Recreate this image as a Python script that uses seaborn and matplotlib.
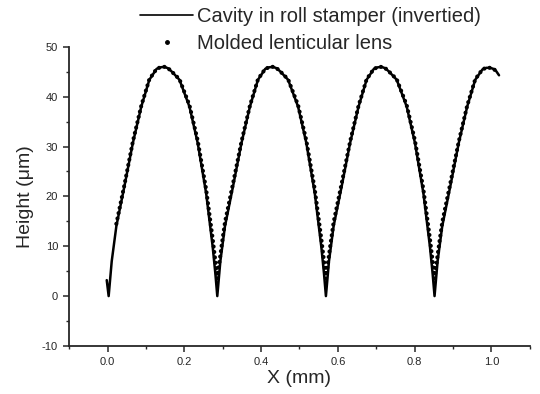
import matplotlib
matplotlib.use('Agg')
import matplotlib.pyplot as plt
from matplotlib.lines import Line2D
from matplotlib.ticker import MultipleLocator, FormatStrFormatter
import pandas as pd
import seaborn as sns

sns.set_style('ticks')
plt.rcParams['font.family'] = ['Liberation Sans', 'DejaVu Sans']
plt.rcParams['axes.unicode_minus'] = False

# Cavity in roll stamper (inverted) - solid line
stamper_x = [-0.002, 0.003,
             0.011, 0.023, 0.044, 0.066, 0.088, 0.109, 0.128, 0.138, 0.148, 0.158, 0.168, 0.1875, 0.2135, 0.235, 0.257, 0.274, 0.281, 0.286,
             0.294, 0.306, 0.327, 0.349, 0.371, 0.392, 0.411, 0.421, 0.431, 0.441, 0.451, 0.4705, 0.4965, 0.518, 0.540, 0.557, 0.564, 0.569,
             0.577, 0.589, 0.610, 0.632, 0.654, 0.675, 0.694, 0.704, 0.714, 0.724, 0.734, 0.7535, 0.7795, 0.801, 0.823, 0.840, 0.847, 0.852,
             0.860, 0.872, 0.893, 0.915, 0.937, 0.958, 0.977, 0.987, 0.997, 1.005, 1.012, 1.020]
stamper_y = [3.2, 0.0,
             7.0, 14.0, 22.0, 30.7, 38.0, 43.4, 45.6, 45.9, 46.0, 45.7, 45.0, 43.4, 38.0, 30.7, 20.6, 9.9, 4.5, 0.0,
             7.0, 14.0, 22.0, 30.7, 38.0, 43.4, 45.6, 45.9, 46.0, 45.7, 45.0, 43.4, 38.0, 30.7, 20.6, 9.9, 4.5, 0.0,
             7.0, 14.0, 22.0, 30.7, 38.0, 43.4, 45.6, 45.9, 46.0, 45.7, 45.0, 43.4, 38.0, 30.7, 20.6, 9.9, 4.5, 0.0,
             7.0, 14.0, 22.0, 30.7, 38.0, 43.4, 45.5, 45.8, 45.8, 45.6, 45.2, 44.3]

# Molded lenticular lens - dots
lens_x = [0.023, 0.044, 0.066, 0.088, 0.109, 0.128, 0.138, 0.148, 0.158, 0.168, 0.1875, 0.2135, 0.235, 0.257, 0.274, 0.281, 0.286,
          0.291, 0.298, 0.306, 0.327, 0.349, 0.371, 0.392, 0.411, 0.421, 0.431, 0.441, 0.451, 0.4705, 0.4965, 0.518, 0.540, 0.557, 0.564, 0.569,
          0.574, 0.581, 0.589, 0.610, 0.632, 0.654, 0.675, 0.694, 0.704, 0.714, 0.724, 0.734, 0.7535, 0.7795, 0.801, 0.823, 0.840, 0.847, 0.852,
          0.857, 0.864, 0.872, 0.893, 0.915, 0.937, 0.958, 0.977, 0.987, 0.997, 1.005, 1.012]
lens_y = [14.5, 22.3, 31.0, 38.2, 43.5, 45.6, 45.9, 46.0, 45.7, 45.0, 43.5, 38.3, 31.2, 21.4, 11.5, 7.0, 3.5,
          6.5, 10.5, 14.8, 22.6, 31.0, 38.2, 43.5, 45.6, 45.9, 46.0, 45.7, 45.0, 43.5, 38.3, 31.2, 21.4, 11.5, 7.0, 3.5,
          6.5, 10.5, 14.8, 22.6, 31.0, 38.2, 43.5, 45.6, 45.9, 46.0, 45.7, 45.0, 43.5, 38.3, 31.2, 21.4, 11.5, 7.0, 3.5,
          6.5, 10.5, 14.8, 22.6, 31.0, 38.2, 43.5, 45.5, 45.8, 45.8, 45.6, 45.2]

df_stamper = pd.DataFrame({'X': stamper_x, 'Height': stamper_y})
df_lens = pd.DataFrame({'X': lens_x, 'Height': lens_y})

fig = plt.figure(figsize=(5.4, 3.94), dpi=100)
ax = fig.add_axes([0.128, 0.122, 0.853, 0.759])

sns.lineplot(data=df_lens, x='X', y='Height', sort=False, estimator=None,
             color='black', linewidth=3.0, ax=ax)
lens_line = ax.lines[-1]
lens_line.set_dashes((0.01, 1.3))
lens_line.set_dash_capstyle('round')

sns.lineplot(data=df_stamper, x='X', y='Height', sort=False, estimator=None,
             color='black', linewidth=1.8, ax=ax)

ax.set_xlim(-0.1, 1.1)
ax.set_ylim(-10, 50)
ax.xaxis.set_major_locator(MultipleLocator(0.2))
ax.xaxis.set_minor_locator(MultipleLocator(0.1))
ax.xaxis.set_major_formatter(FormatStrFormatter('%.1f'))
ax.yaxis.set_major_locator(MultipleLocator(10))
ax.yaxis.set_minor_locator(MultipleLocator(5))
ax.tick_params(which='major', direction='out', length=4, width=1.1, labelsize=8, pad=4)
ax.tick_params(which='minor', direction='out', length=2.5, width=1.0)
sns.despine(ax=ax)
for s in ['left', 'bottom']:
    ax.spines[s].set_linewidth(1.3)

ax.set_xlabel('X (mm)', fontsize=14, labelpad=2)
ax.set_ylabel('Height (μm)', fontsize=14, labelpad=6)

handles = [Line2D([], [], color='black', linewidth=1.2),
           Line2D([], [], color='black', marker='o', markersize=2.5, linestyle='none')]
labels = ['Cavity in roll stamper (invertied)', 'Molded lenticular lens']
fig.legend(handles, labels, loc='upper left', bbox_to_anchor=(140 / 540, 1 - 7 / 394),
           frameon=False, fontsize=14.5, handlelength=2.65, handletextpad=0.2,
           labelspacing=0.38, borderpad=0, borderaxespad=0)

fig.savefig('out.png', dpi=100)
